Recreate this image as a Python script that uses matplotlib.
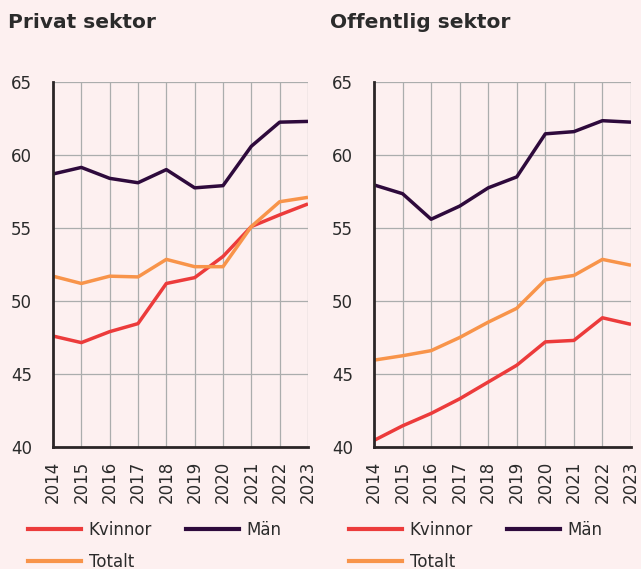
"""Andel i procent per sektor, kvinnor, män och totalt 2014-2023."""

import matplotlib.pyplot as plt
from matplotlib.lines import Line2D

years = list(range(2014, 2024))

privat_kvinnor = [47.6, 47.15, 47.9, 48.45, 51.2, 51.6, 53.05, 55.1, 55.9, 56.65]
privat_man = [58.7, 59.15, 58.4, 58.1, 59.0, 57.75, 57.9, 60.6, 62.25, 62.3]
privat_totalt = [51.7, 51.2, 51.7, 51.65, 52.85, 52.35, 52.35, 55.1, 56.8, 57.1]

offentlig_kvinnor = [40.45, 41.45, 42.3, 43.3, 44.45, 45.6, 47.2, 47.3, 48.85, 48.4]
offentlig_man = [57.95, 57.35, 55.6, 56.5, 57.75, 58.5, 61.45, 61.6, 62.35, 62.25]
offentlig_totalt = [45.95, 46.25, 46.6, 47.5, 48.55, 49.5, 51.45, 51.75, 52.85, 52.45]

titles = ['Privat sektor', 'Offentlig sektor']
series_labels = ['Kvinnor', 'Män', 'Totalt']
y_ticks = [40, 45, 50, 55, 60, 65]

BG = '#fdf0f0'
COLORS = {'Kvinnor': '#ec3b3b', 'Män': '#2e0a3c', 'Totalt': '#f8944a'}
TEXT = '#2b2b2b'

plt.rcParams['font.family'] = ['DejaVu Sans']

fig = plt.figure(figsize=(6.41, 5.69), dpi=100, facecolor=BG)
W, H = 641, 569

panels = [
    (53, 308, 8, titles[0], (privat_kvinnor, privat_man, privat_totalt)),
    (374, 631, 330, titles[1], (offentlig_kvinnor, offentlig_man, offentlig_totalt)),
]

for x0, x1, tx, title, data in panels:
    ax = fig.add_axes([x0 / W, 1 - 447 / H, (x1 - x0) / W, (447 - 82) / H])
    ax.set_facecolor(BG)
    for label, values in zip(series_labels, data):
        ax.plot(years, values, color=COLORS[label], lw=2.5, solid_capstyle='butt',
                label=label, zorder=3)
    ax.set_xlim(years[0], years[-1])
    ax.set_ylim(40, 65)
    ax.set_xticks(years)
    ax.set_xticklabels([str(y) for y in years], rotation=90, fontsize=12, color=TEXT)
    ax.set_yticks(y_ticks)
    ax.set_yticklabels([str(t) for t in y_ticks], fontsize=12, color=TEXT)
    ax.tick_params(length=0)
    ax.tick_params(axis='x', pad=10)
    ax.tick_params(axis='y', pad=15)
    ax.grid(True, color='#abadad', lw=0.9)
    ax.set_axisbelow(True)
    for side in ('top', 'right'):
        ax.spines[side].set_visible(False)
    for side in ('left', 'bottom'):
        ax.spines[side].set_color('#2b2526')
        ax.spines[side].set_linewidth(2)
        ax.spines[side].set_zorder(4)
    fig.text(tx / W, 1 - 22 / H, title, fontsize=14.5, fontweight='bold',
             color=TEXT, va='center', ha='left')

    # column-major fill: Kvinnor/Totalt in first column, Män in second
    order = ['Kvinnor', 'Totalt', 'Män']
    handles = [Line2D([], [], color=COLORS[s], lw=3) for s in order]
    fig.legend(handles, order, loc='upper left',
               bbox_to_anchor=((x0 - 25) / W, 1 - 521 / H), ncol=2, frameon=False,
               fontsize=12, handlelength=3.2, handletextpad=0.45, columnspacing=2.0,
               labelspacing=0.85, borderaxespad=0, borderpad=0, labelcolor=TEXT)

fig.savefig('out.png', dpi=100, facecolor=BG)
